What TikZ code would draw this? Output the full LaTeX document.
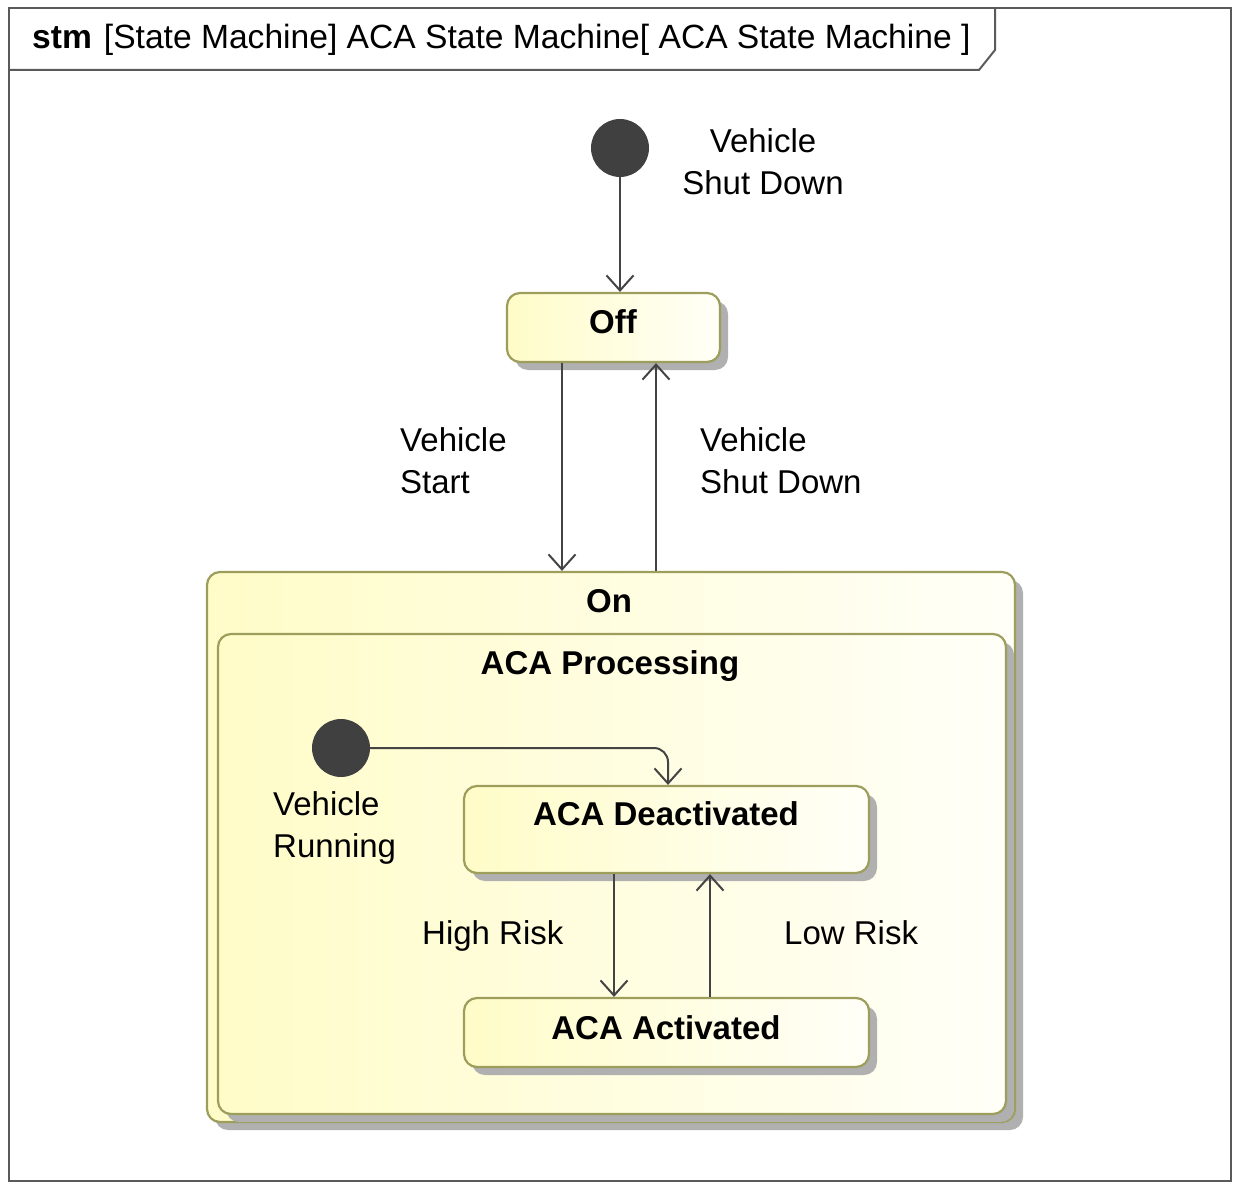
\documentclass[tikz,border=0pt]{standalone}
\usepackage{fontspec}
\setmainfont{Liberation Sans}
\usetikzlibrary{arrows.meta,shadows}

\definecolor{stborder}{RGB}{158,158,92}
\definecolor{styel}{RGB}{255,252,200}
\definecolor{stwhite}{RGB}{255,255,248}
\definecolor{stshadow}{RGB}{176,176,176}
\definecolor{stline}{RGB}{68,68,68}
\definecolor{stdot}{RGB}{64,64,64}
\definecolor{stframe}{RGB}{90,90,90}

\begin{document}
\begin{tikzpicture}[x=1pt,y=-1pt,
  lbl/.style={font=\fontsize{33}{42}\selectfont, inner sep=0pt, align=left},
  bname/.style={font=\fontsize{33}{42}\selectfont\bfseries, inner sep=0pt, anchor=base},
  statebox/.style={draw=stborder, line width=2.2pt, rounded corners=13pt,
    left color=styel, right color=stwhite, inner sep=0pt,
    drop shadow={shadow xshift=8pt, shadow yshift=-8pt, fill=stshadow, opacity=1}},
  initst/.style={circle, fill=stdot, minimum size=58pt, inner sep=0pt},
  trans/.style={draw=stline, line width=2pt, -{Straight Barb[length=15pt,width=27pt]}},
  frameline/.style={draw=stframe, line width=2pt}]

\useasboundingbox (0,0) rectangle (1233,1182);

% diagram frame and its name tab
\draw[frameline] (9,8) rectangle (1231,1181);
\draw[frameline] (9,70) -- (979,70) -- (995,50) -- (995,8);
\node[anchor=base west, inner sep=0pt, font=\fontsize{33.6}{42}\selectfont] (title) at (32,49)
  {\textbf{stm}\hspace{12pt}[State Machine] ACA State Machine[ ACA State Machine ]};

% states
\node[statebox, minimum width=808pt, minimum height=550pt] (On) at (611,847) {};
\node[statebox, minimum width=788pt, minimum height=480pt] (Proc) at (612,874) {};
\node[statebox, minimum width=213pt, minimum height=69pt] (Off) at (613.5,327.5) {};
\node[statebox, minimum width=405pt, minimum height=87pt] (Deact) at (666.5,829.5) {};
\node[statebox, minimum width=405pt, minimum height=69pt] (Act) at (666.5,1032.5) {};

\node[bname] (OffT) at (613,333) {Off};
\node[bname] (OnT) at (609,612) {On};
\node[bname] (ProcT) at (610,674) {ACA Processing};
\node[bname] (DeactT) at (666,825) {ACA Deactivated};
\node[bname] (ActT) at (666,1039) {ACA Activated};

% pseudo states
\node[initst] (Init1) at (620,148) {};
\node[initst] (Init2) at (341,748) {};

% x positions of the vertical transitions
\coordinate (xStart) at (562,0);
\coordinate (xShut) at (656,0);
\coordinate (xInit) at (668,0);
\coordinate (xHigh) at (614,0);
\coordinate (xLow) at (710,0);

% transitions
\draw[trans] (Init1) -- (Init1 |- Off.north);
\draw[trans] (Off.south -| xStart) -- (On.north -| xStart);
\draw[trans] (On.north -| xShut) -- (Off.south -| xShut);
\draw[trans, rounded corners=14pt] (Init2) -- (Init2 -| xInit) -- (Deact.north -| xInit);
\draw[trans] (Deact.south -| xHigh) -- (Act.north -| xHigh);
\draw[trans] (Act.north -| xLow) -- (Deact.south -| xLow);

% transition labels
\node[lbl, align=center] (lShut1) at (763,162) {Vehicle\\Shut Down};
\node[lbl, anchor=west] (lStart) at (400,461) {Vehicle\\Start};
\node[lbl, anchor=west] (lShut2) at (700,461) {Vehicle\\Shut Down};
\node[lbl, anchor=west] (lRun) at (273,828) {Vehicle\\Running};
\node[lbl, anchor=base west] (lHigh) at (422,944) {High Risk};
\node[lbl, anchor=base west] (lLow) at (784,944) {Low Risk};
\end{tikzpicture}
\end{document}
